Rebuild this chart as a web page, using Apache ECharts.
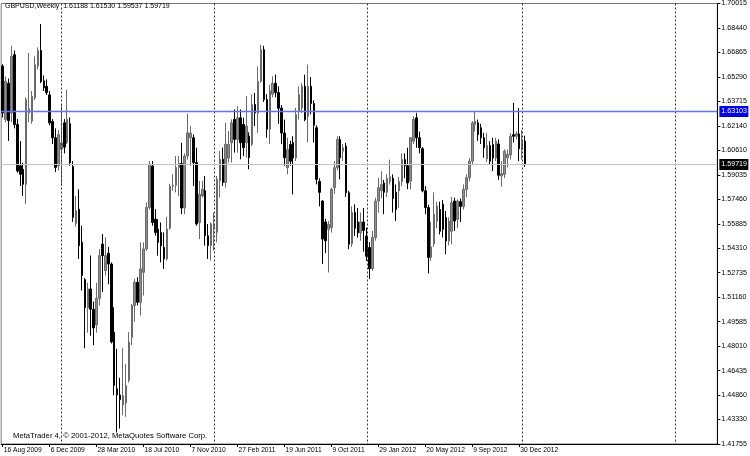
<!DOCTYPE html>
<html>
<head>
<meta charset="utf-8">
<script src="https://cdn.jsdelivr.net/npm/echarts@6/dist/echarts.min.js"></script>
<style>
html,body{margin:0;padding:0;background:#fff;}
#chart{width:750px;height:456px;}
</style>
</head>
<body>
<div id="chart"></div>
<script>
// ---- data ----
const symbolName = 'GBPUSD';
const periodName = 'Weekly';
const firstWeek = [2009, 7, 16];   // 16 Aug 2009 (year, monthIndex, day)
const totalSlots = 244;            // weeks shown on the axis incl. empty future space
const opens = [1.6600,1.6258,1.6490,1.6300,1.6673,1.6225,1.5960,1.5938,1.5842,1.6300,1.6247,1.6396,1.6600,1.6700,1.6505,1.6470,1.6415,1.6245,1.6140,1.5960,
1.6066,1.6236,1.6108,1.6230,1.5955,1.5590,1.5682,1.5470,1.5230,1.5050,1.5170,1.5040,1.4940,1.5110,1.5458,1.5288,1.5400,1.5330,1.4893,1.4530,
1.4490,1.4425,1.4440,1.4585,1.4860,1.5064,1.5213,1.5085,1.5277,1.5427,1.5693,1.5959,1.5618,1.5554,1.5533,1.5437,1.5363,1.5560,1.5830,1.5835,
1.5950,1.5975,1.5690,1.6023,1.6140,1.6140,1.5981,1.5597,1.5767,1.5800,1.5512,1.5448,1.5560,1.5533,1.5864,1.6002,1.5853,1.6010,1.6108,1.6258,
1.6130,1.6268,1.6225,1.6108,1.6150,1.6098,1.6354,1.6300,1.6503,1.6705,1.6385,1.6195,1.6420,1.6490,1.6430,1.6330,1.6170,1.5948,1.6097,1.6110,
1.6010,1.6310,1.6332,1.6470,1.6278,1.6470,1.6360,1.6204,1.5860,1.5734,1.5600,1.5553,1.5564,1.5820,1.5948,1.6129,1.6054,1.6086,1.5788,1.5460,
1.5660,1.5600,1.5530,1.5600,1.5510,1.5436,1.5300,1.5500,1.5734,1.5800,1.5850,1.5790,1.5860,1.5880,1.5790,1.5800,1.5860,1.6000,1.5960,1.5862,
1.6118,1.6268,1.6140,1.6070,1.5800,1.5692,1.5372,1.5460,1.5606,1.5680,1.5713,1.5628,1.5478,1.5540,1.5734,1.5617,1.5730,1.5700,1.5809,1.5884,
1.5990,1.6225,1.6236,1.6204,1.6140,1.6005,1.6090,1.6097,1.6010,1.6100,1.5895,1.5905,1.6012,1.6030,1.6160,1.6150,1.6165,1.6065,1.61188];
const highs = [1.6612,1.6534,1.6520,1.6731,1.6700,1.6260,1.6119,1.5980,1.6400,1.6685,1.6440,1.6662,1.6720,1.6870,1.6540,1.6515,1.6440,1.6260,1.6200,1.6190,
1.6355,1.6260,1.6449,1.6270,1.5990,1.5767,1.5810,1.5576,1.5240,1.5210,1.5385,1.5090,1.5210,1.5427,1.5523,1.5501,1.5440,1.5340,1.5053,1.4787,
1.4600,1.4790,1.4690,1.4893,1.5075,1.5235,1.5245,1.5469,1.5469,1.5725,1.5991,1.5991,1.5682,1.5618,1.5597,1.5533,1.5633,1.5845,1.5906,1.6023,
1.6023,1.6108,1.6040,1.6295,1.6215,1.6162,1.6077,1.5863,1.5863,1.5895,1.5587,1.5597,1.5661,1.5895,1.6055,1.6077,1.6236,1.6183,1.6258,1.6322,
1.6343,1.6322,1.6268,1.6407,1.6175,1.6418,1.6428,1.6598,1.6737,1.6730,1.6420,1.6480,1.6534,1.6545,1.6470,1.6350,1.6257,1.6140,1.6120,1.6150,
1.6332,1.6470,1.6490,1.6545,1.6609,1.6530,1.6380,1.6220,1.5880,1.5740,1.5620,1.5606,1.5820,1.5990,1.6150,1.6150,1.6100,1.6108,1.5800,1.5700,
1.5713,1.5690,1.5660,1.5690,1.5564,1.5470,1.5542,1.5756,1.5884,1.5926,1.5870,1.5905,1.6000,1.5905,1.5840,1.5890,1.6040,1.6040,1.6076,1.6145,
1.6278,1.6300,1.6180,1.6080,1.5830,1.5710,1.5600,1.5790,1.5730,1.5730,1.5740,1.5670,1.5630,1.5760,1.5756,1.5745,1.5750,1.5841,1.5905,1.6012,
1.6246,1.6310,1.6257,1.6230,1.6172,1.6172,1.6118,1.6140,1.6140,1.6130,1.5990,1.6065,1.6065,1.6170,1.6364,1.6180,1.6331,1.6190,1.61530];
const lows = [1.6270,1.6240,1.6120,1.6240,1.6200,1.5916,1.5831,1.5767,1.5714,1.6240,1.6230,1.6380,1.6580,1.6490,1.6440,1.6415,1.6220,1.6100,1.5920,1.5930,
1.5831,1.6040,1.6100,1.5960,1.5600,1.5570,1.5363,1.5160,1.4790,1.4890,1.4870,1.4810,1.4890,1.5064,1.5150,1.5256,1.5200,1.4820,1.4488,1.4250,
1.4275,1.4360,1.4350,1.4570,1.4810,1.4960,1.5064,1.5000,1.5128,1.5416,1.5680,1.5576,1.5512,1.5384,1.5341,1.5299,1.5352,1.5550,1.5800,1.5790,
1.5767,1.5650,1.5650,1.6000,1.5960,1.5831,1.5576,1.5490,1.5757,1.5448,1.5363,1.5352,1.5416,1.5469,1.5757,1.5831,1.5820,1.5981,1.5981,1.6045,
1.6045,1.6002,1.6023,1.6013,1.5938,1.6087,1.6215,1.6172,1.6492,1.6370,1.6140,1.6100,1.6400,1.6400,1.6230,1.6100,1.5960,1.5905,1.5960,1.5777,
1.5990,1.6257,1.6300,1.6246,1.6110,1.6290,1.6110,1.5841,1.5700,1.5330,1.5400,1.5276,1.5532,1.5780,1.5930,1.5873,1.5990,1.5760,1.5425,1.5440,
1.5510,1.5500,1.5480,1.5410,1.5350,1.5233,1.5286,1.5480,1.5660,1.5750,1.5650,1.5760,1.5840,1.5660,1.5606,1.5690,1.5830,1.5880,1.5810,1.5810,
1.6100,1.6076,1.6040,1.5790,1.5649,1.5270,1.5350,1.5440,1.5560,1.5520,1.5500,1.5393,1.5450,1.5457,1.5542,1.5560,1.5600,1.5680,1.5760,1.5860,
1.5970,1.6180,1.6120,1.6100,1.6012,1.5985,1.5970,1.5926,1.5990,1.5870,1.5826,1.5880,1.5950,1.6000,1.6110,1.6130,1.5990,1.6000,1.59537];
const closes = [1.6300,1.6503,1.6250,1.6662,1.6225,1.5927,1.5906,1.5842,1.6385,1.6325,1.6407,1.6609,1.6700,1.6500,1.6460,1.6430,1.6236,1.6140,1.5950,1.6160,
1.6108,1.6080,1.6258,1.5980,1.5630,1.5672,1.5448,1.5256,1.5050,1.5170,1.5040,1.4920,1.5110,1.5384,1.5384,1.5384,1.5330,1.4830,1.4552,1.4490,
1.4460,1.4485,1.4550,1.4830,1.5064,1.5213,1.5085,1.5299,1.5427,1.5693,1.5970,1.5597,1.5533,1.5469,1.5448,1.5363,1.5554,1.5830,1.5835,1.5950,
1.5975,1.5690,1.6023,1.6172,1.6170,1.5981,1.5587,1.5778,1.5810,1.5512,1.5448,1.5587,1.5576,1.5874,1.6002,1.5853,1.6098,1.6098,1.6236,1.6130,
1.6268,1.6108,1.6077,1.6215,1.6013,1.6354,1.6300,1.6503,1.6705,1.6385,1.6195,1.6440,1.6490,1.6430,1.6330,1.6170,1.6012,1.6065,1.5990,1.6010,
1.6289,1.6417,1.6470,1.6257,1.6470,1.6360,1.6220,1.5873,1.5790,1.5490,1.5480,1.5585,1.5809,1.5948,1.6129,1.6012,1.6076,1.5788,1.5457,1.5660,
1.5560,1.5530,1.5600,1.5545,1.5380,1.5300,1.5500,1.5734,1.5820,1.5840,1.5790,1.5880,1.5890,1.5750,1.5680,1.5860,1.6000,1.5960,1.5850,1.6140,
1.6257,1.6140,1.6076,1.5800,1.5692,1.5372,1.5440,1.5650,1.5702,1.5540,1.5553,1.5478,1.5606,1.5723,1.5606,1.5734,1.5700,1.5809,1.5884,1.5990,
1.6236,1.6246,1.6161,1.6140,1.6076,1.6090,1.5990,1.6010,1.6118,1.5900,1.5910,1.6054,1.6033,1.6150,1.6150,1.6165,1.6070,1.61188,1.59719];
const yTickLabels = ['1.41755','1.43330','1.44860','1.46435','1.48010','1.49585','1.51160','1.52735','1.54310','1.55885',
'1.57460','1.59035','1.60610','1.62140','1.63715','1.65290','1.66865','1.68440','1.70015'];
const yMin = 1.41755, yMax = 1.70015;
const hLinePrice = 1.63103;    // user horizontal line
const bidPrice = 1.59719;      // current bid line
const copyrightText = 'MetaTrader 4, \u00A9 2001-2012, MetaQuotes Software Corp.';

// ---- derived ----
const months = ['Jan','Feb','Mar','Apr','May','Jun','Jul','Aug','Sep','Oct','Nov','Dec'];
const t0 = Date.UTC(firstWeek[0], firstWeek[1], firstWeek[2]);
const dates = [], years = [];
for (let i = 0; i < totalSlots; i++) {
  const d = new Date(t0 + i * 7 * 86400000);
  dates.push(d.getUTCDate() + ' ' + months[d.getUTCMonth()] + ' ' + d.getUTCFullYear());
  years.push(d.getUTCFullYear());
}
const yearStarts = [];
for (let i = 1; i < totalSlots; i++) if (years[i] !== years[i - 1]) yearStarts.push(i);
const nBars = opens.length;
const candles = opens.map((o, i) => [o, closes[i], lows[i], highs[i]]);
const step = (yMax - yMin) / (yTickLabels.length - 1);
const tickVals = yTickLabels.map((_, k) => yMin + k * step);
const labelEvery = 16;
const showLabel = (idx) => idx % labelEvery === 0 && idx < nBars;
const last = nBars - 1;
const headerText = symbolName + ',' + periodName + '  ' +
  [opens[last], highs[last], lows[last], closes[last]].map(v => v.toFixed(5)).join(' ');

const FONT = 'Liberation Sans, Arial, sans-serif';
const chart = echarts.init(document.getElementById('chart'), null, {renderer: 'canvas'});
chart.setOption({
  backgroundColor: '#ffffff',
  animation: false,
  grid: {left: 1.2, right: 30.7, top: 2, bottom: 12, show: true, borderColor: '#777', borderWidth: 1, backgroundColor: '#fff'},
  xAxis: {
    type: 'category', data: dates, boundaryGap: true,
    axisLine: {show: true, lineStyle: {color: '#000', width: 1}},
    axisTick: {show: true, interval: (i) => showLabel(i), alignWithLabel: true, length: 3, lineStyle: {color: '#000'}},
    axisLabel: {interval: (i) => showLabel(i), align: 'left', margin: 3, fontSize: 6.7, fontFamily: FONT, color: '#000', padding: [0, 0, 0, 1]},
    splitLine: {show: false}
  },
  yAxis: {
    type: 'value', position: 'right', min: yMin, max: yMax, scale: true,
    splitLine: {show: false},
    axisLine: {show: true, lineStyle: {color: '#000', width: 1}},
    axisTick: {show: true, length: 3, customValues: tickVals, lineStyle: {color: '#000'}},
    axisLabel: {customValues: tickVals, margin: 4, fontSize: 7.1, fontFamily: FONT, color: '#000', hideOverlap: false,
      formatter: (v) => yTickLabels[Math.round((v - yMin) / step)]}
  },
  series: [{
    type: 'candlestick',
    data: candles,
    barWidth: 2,
    itemStyle: {color: '#8e8e8e', color0: '#000000', borderColor: '#6a6a6a', borderColor0: '#000000', borderWidth: 1}
  }]
});

// year separators, price lines and their axis boxes, placed through the chart's own scales
const gridRect = chart.getModel().getComponent('grid').coordinateSystem.getRect();
const sepGraphics = yearStarts.map(i => {
  const x = Math.round(chart.convertToPixel({xAxisIndex: 0}, dates[i])) + 0.5;
  return {type: 'line', z: 40, silent: true, shape: {x1: x, y1: gridRect.y, x2: x, y2: gridRect.y + gridRect.height},
    style: {stroke: '#333', lineWidth: 1, lineDash: [2, 2]}};
});
function priceLineGraphics(price, lineColor, lineWidth, boxColor) {
  const yPix = chart.convertToPixel({yAxisIndex: 0}, price);
  const y = Math.round(yPix) + 0.5;
  return [
    {type: 'line', z: 50, silent: true, shape: {x1: gridRect.x, y1: y, x2: gridRect.x + gridRect.width, y2: y},
      style: {stroke: lineColor, lineWidth: lineWidth}},
    {type: 'rect', z: 60, silent: true, shape: {x: gridRect.x + gridRect.width + 2, y: y - 5.5, width: 29, height: 11},
      style: {fill: boxColor}},
    {type: 'text', z: 61, silent: true, x: gridRect.x + gridRect.width + 4, y: y,
      style: {text: price.toFixed(5), fill: '#fff', font: '7.1px ' + FONT, verticalAlign: 'middle', align: 'left'}}
  ];
}
chart.setOption({
  graphic: [
    {type: 'text', left: 5, top: 3, style: {text: headerText, font: '7px ' + FONT, fill: '#000'}},
    {type: 'text', left: 13, top: 432, style: {text: copyrightText, font: '7.7px ' + FONT, fill: '#000'}}
  ].concat(sepGraphics)
   .concat(priceLineGraphics(bidPrice, '#c4c4c4', 1, '#000000'))
   .concat(priceLineGraphics(hLinePrice, '#6070ff', 1.6, '#0000ff'))
});
</script>
</body>
</html>
